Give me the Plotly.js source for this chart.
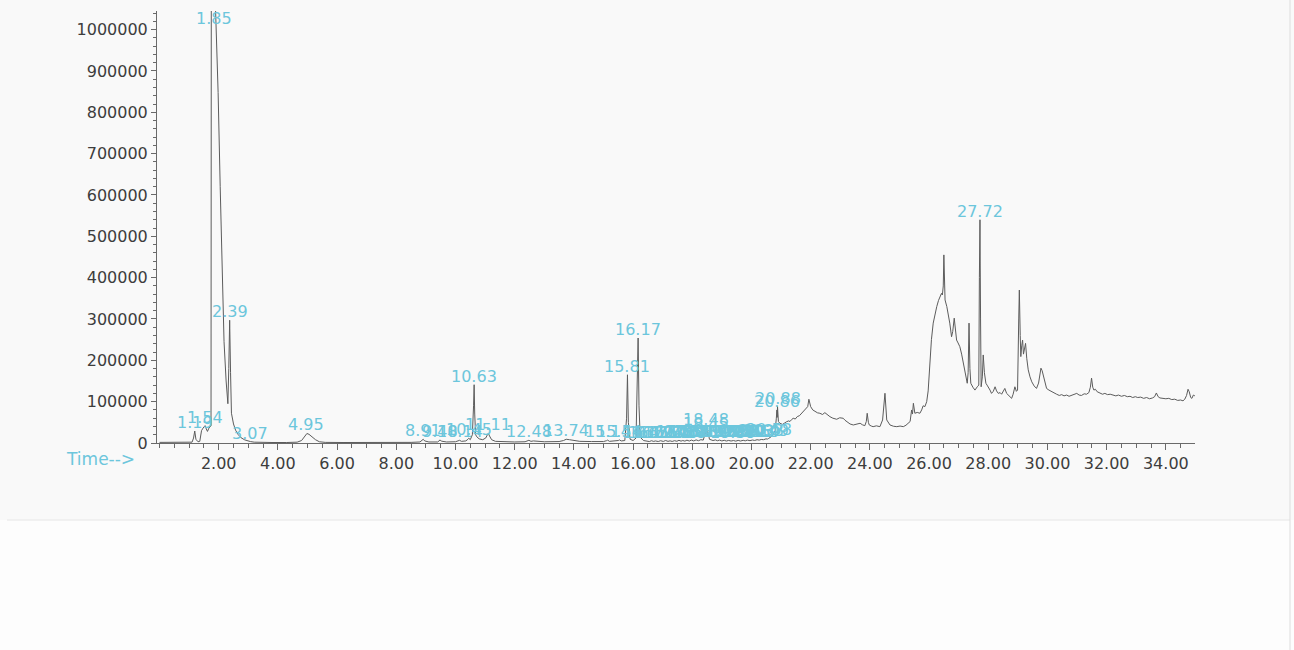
<!DOCTYPE html>
<html>
<head>
<meta charset="utf-8">
<script src="https://cdn.plot.ly/plotly-3.0.1.min.js"></script>
<style>
  html, body { margin: 0; padding: 0; background: #f9f9f9; }
  #chart { width: 1294px; height: 650px; }
</style>
</head>
<body>
<div id="chart"></div>
<script>
// Total ion chromatogram, [retention time (min), abundance] by region of the run
const solventFront = [
  [0.00, 1500], [0.30, 1200], [0.60, 1500], [0.90, 1800], [1.10, 2000], [1.15, 12000], [1.19, 29000],
  [1.23, 9000], [1.30, 3000], [1.36, 4000], [1.42, 30000], [1.47, 36000], [1.54, 42000], [1.58, 34000],
  [1.62, 28000], [1.67, 36000], [1.71, 40000], [1.74, 42000], [1.75, 1150000], [1.85, 1200000],
  [1.88, 1080000], [1.98, 848000], [2.05, 620000], [2.12, 420000], [2.18, 245000], [2.25, 150000],
  [2.31, 95000], [2.34, 180000], [2.37, 297000], [2.40, 170000], [2.43, 72000], [2.50, 46000],
  [2.57, 31000], [2.65, 21000], [2.75, 13000], [2.88, 7500], [3.00, 4500], [3.07, 3500], [3.20, 2000]
];

const midRun = [
  [3.40, 1500], [3.80, 1200], [4.30, 1200], [4.65, 2000], [4.80, 6000], [4.90, 15000], [4.98, 23000],
  [5.05, 21000], [5.15, 15000], [5.27, 8000], [5.40, 3000], [5.60, 1500], [6.20, 1200], [7.00, 1000],
  [7.80, 1200], [8.50, 1500], [8.80, 2500], [8.86, 7000], [8.91, 9000], [8.96, 5000], [9.10, 2500],
  [9.40, 2500], [9.45, 5500], [9.48, 7500], [9.52, 4500], [9.70, 2500], [10.00, 3000], [10.10, 4500],
  [10.14, 6500], [10.20, 4000], [10.35, 5000], [10.42, 9000], [10.45, 11500], [10.50, 8000],
  [10.57, 20000], [10.61, 90000], [10.63, 141000], [10.65, 70000], [10.68, 20000], [10.72, 15000],
  [10.80, 10000], [10.92, 8000], [11.02, 12000], [11.08, 20000], [11.11, 23500], [11.15, 17000],
  [11.22, 8000], [11.35, 4000], [11.60, 3000], [12.00, 2500], [12.35, 3000], [12.45, 5500],
  [12.48, 6500], [12.55, 4000], [12.63, 5000], [13.00, 3000], [13.50, 3500], [13.65, 6000],
  [13.74, 9000], [13.85, 8000], [14.00, 6000], [14.20, 4000], [14.60, 3500], [15.00, 3500],
  [15.10, 5500], [15.14, 7000], [15.20, 4000], [15.45, 4500], [15.50, 6000], [15.54, 7500],
  [15.60, 5000], [15.72, 6000], [15.78, 60000], [15.81, 165000], [15.84, 50000], [15.90, 9000],
  [16.00, 6000], [16.10, 12000], [16.14, 120000], [16.17, 254000], [16.20, 90000], [16.24, 14000],
  [16.35, 6000]
];

const denseRegion = [
  [16.45, 5000], [16.55, 3500], [16.62, 5500], [16.70, 3800], [16.75, 5000], [16.85, 3600],
  [16.93, 5500], [17.02, 3800], [17.10, 6000], [17.18, 4000], [17.25, 5200], [17.32, 3800],
  [17.40, 5600], [17.48, 4200], [17.55, 6500], [17.62, 4500], [17.68, 6000], [17.75, 4500],
  [17.82, 6800], [17.90, 4800], [17.97, 7000], [18.05, 5000], [18.13, 7500], [18.21, 5500],
  [18.29, 8000], [18.37, 7000], [18.45, 26000], [18.48, 36000], [18.52, 16000], [18.55, 20000],
  [18.58, 9000], [18.62, 8000], [18.70, 6000], [18.78, 7500], [18.85, 5500], [18.92, 7000],
  [19.00, 5000], [19.08, 6500], [19.15, 4800], [19.23, 6200], [19.31, 4800], [19.39, 6000],
  [19.47, 4500], [19.55, 6300], [19.63, 4800], [19.72, 6500], [19.79, 5200], [19.86, 7000],
  [19.95, 5600], [20.03, 7200], [20.11, 6200], [20.19, 8000], [20.26, 7000], [20.33, 8500],
  [20.41, 8000], [20.49, 10000], [20.54, 9500], [20.58, 11000], [20.66, 15000], [20.74, 22000],
  [20.80, 30000], [20.84, 60000], [20.86, 80000], [20.87, 62000], [20.88, 88000], [20.91, 52000],
  [20.96, 47700], [21.05, 45000]
];

const lateRegion = [
  [21.12, 49000], [21.19, 51600], [21.26, 53500], [21.30, 52000], [21.36, 57000], [21.41, 59800],
  [21.48, 58000], [21.55, 64000], [21.62, 66000], [21.70, 71900], [21.78, 78000], [21.86, 84000],
  [21.90, 88000], [21.94, 105800], [22.00, 87900], [22.07, 80000], [22.15, 75800], [22.23, 73000],
  [22.31, 71900], [22.40, 69000], [22.48, 73400], [22.56, 68000], [22.65, 63700], [22.75, 60000],
  [22.88, 57400], [22.98, 61000], [23.10, 59800], [23.16, 55000], [23.22, 51600], [23.33, 46000],
  [23.44, 43600], [23.55, 46000], [23.67, 47700], [23.75, 44000], [23.83, 41900], [23.88, 52000],
  [23.91, 71900], [23.95, 50000], [23.98, 43600], [24.05, 41000], [24.11, 39500], [24.22, 41500],
  [24.34, 39500], [24.43, 55700], [24.51, 120300], [24.57, 55700], [24.63, 48000], [24.68, 43600],
  [24.80, 40500], [24.91, 39500], [25.02, 41000], [25.13, 39500], [25.22, 43000], [25.30, 47700],
  [25.36, 52000], [25.41, 79900], [25.44, 70000], [25.47, 96100], [25.52, 71900], [25.60, 74000],
  [25.69, 71900], [25.75, 80000], [25.80, 90000], [25.86, 88000], [25.92, 100000], [25.97, 126000],
  [26.00, 160000], [26.03, 217000], [26.08, 250000], [26.14, 290000], [26.20, 312000], [26.26, 330000],
  [26.32, 345000], [26.37, 354000], [26.42, 362000], [26.45, 358000], [26.48, 380000], [26.50, 455000],
  [26.52, 400000], [26.54, 346000], [26.60, 330000], [26.65, 314000], [26.70, 290000], [26.76, 257000],
  [26.80, 270000], [26.85, 302000], [26.89, 280000], [26.93, 249000], [26.98, 242000], [27.04, 233000],
  [27.10, 215000], [27.16, 195000], [27.21, 177000], [27.26, 160000], [27.29, 144500], [27.32, 170000],
  [27.35, 290000], [27.38, 180000], [27.41, 144500], [27.48, 135000], [27.55, 128000], [27.63, 136000],
  [27.68, 140000], [27.70, 400000], [27.72, 540000], [27.74, 300000], [27.76, 136000], [27.80, 160000],
  [27.83, 213000], [27.87, 170000], [27.92, 144500], [27.96, 140000], [28.00, 136000], [28.06, 128000],
  [28.11, 120000], [28.17, 125000], [28.23, 136000], [28.28, 126000], [28.34, 120000], [28.40, 122000],
  [28.45, 118000], [28.50, 123000], [28.56, 132000], [28.62, 120000], [28.68, 116000], [28.74, 112000],
  [28.79, 108000], [28.84, 118000], [28.90, 136000], [28.95, 125000], [28.99, 128000], [29.03, 300000],
  [29.05, 370000], [29.08, 260000], [29.10, 209000], [29.13, 235000], [29.16, 249000], [29.19, 215000],
  [29.21, 225000], [29.26, 241000], [29.30, 205000], [29.35, 177000], [29.41, 160000], [29.47, 148000],
  [29.55, 138000], [29.63, 132000], [29.70, 145000], [29.75, 170000], [29.78, 181000], [29.82, 175000],
  [29.86, 165000], [29.92, 145000], [29.97, 132000], [30.05, 128000], [30.14, 124000], [30.22, 121000],
  [30.31, 118000], [30.40, 115000], [30.48, 117000], [30.56, 114000], [30.65, 116000], [30.73, 113000],
  [30.82, 115000], [30.90, 118000], [30.99, 120000], [31.07, 116000], [31.15, 115000], [31.24, 119000],
  [31.32, 118000], [31.40, 122000], [31.45, 135000], [31.49, 157000], [31.53, 135000], [31.57, 128000],
  [31.62, 130000], [31.68, 124000], [31.77, 120000], [31.86, 118000], [31.94, 120000], [32.03, 117000],
  [32.12, 118000], [32.22, 116000], [32.31, 114000], [32.40, 116000], [32.50, 113000], [32.60, 115000],
  [32.70, 112000], [32.79, 113000], [32.88, 110000], [32.97, 112000], [33.05, 110000], [33.15, 111000],
  [33.25, 108000], [33.35, 110000], [33.45, 107000], [33.55, 109000], [33.62, 112000], [33.68, 121000],
  [33.74, 112000], [33.80, 109000], [33.90, 108000], [34.00, 107000], [34.10, 108000], [34.20, 105000],
  [34.30, 106000], [34.40, 103000], [34.50, 104000], [34.58, 102000], [34.64, 106000], [34.70, 115000],
  [34.75, 130000], [34.79, 124000], [34.84, 110000], [34.88, 108000], [34.93, 116000], [34.98, 114000]
];

// Integrated peak retention times printed above the trace
const peakLabels = [
  1.19, 1.54, 1.85, 2.39, 3.07, 4.95, 8.91, 9.48, 10.14, 10.45, 10.63, 11.11, 12.48, 13.74, 15.14, 15.54,
  15.81, 16.17, 16.45, 16.62, 16.75, 16.93, 17.10, 17.25, 17.40, 17.55, 17.68, 17.82, 17.97, 18.13, 18.29,
  18.45, 18.48, 18.62, 18.78, 18.92, 19.08, 19.23, 19.39, 19.55, 19.72, 19.86, 20.03, 20.19, 20.33, 20.49,
  20.58, 20.86, 20.88, 27.72
];

const xTickValues = [2, 4, 6, 8, 10, 12, 14, 16, 18, 20, 22, 24, 26, 28, 30, 32, 34];
const yTickValues = [0, 100000, 200000, 300000, 400000, 500000, 600000, 700000, 800000, 900000, 1000000];

const X_RANGE = [-0.085, 34.985];
const Y_RANGE = [0, 1045000];

const LABEL_COLOR = '#6cc6dc';
const TEXT_COLOR = '#3d3d3d';
const AXIS_COLOR = '#6a6a6a';

const points = solventFront.concat(midRun, denseRegion, lateRegion);
const retentionTime = points.map(p => p[0]);
const abundance = points.map(p => p[1]);

// apex of the trace at a labelled retention time
function apexAt(t) {
  let exact = null, best = -Infinity;
  for (let i = 0; i < retentionTime.length; i++) {
    const d = Math.abs(retentionTime[i] - t);
    if (d < 0.005) exact = abundance[i];
    if (d <= 0.035) best = Math.max(best, abundance[i]);
  }
  if (exact !== null && best > 0 && exact >= 0.5 * best) return exact;
  return best > -Infinity ? best : 0;
}

const annotations = peakLabels.map(t => {
  const h = apexAt(t);
  const offScale = h > Y_RANGE[1];
  return {
    x: t, y: offScale ? Y_RANGE[1] : h,
    xref: 'x', yref: 'y',
    text: t.toFixed(2),
    showarrow: false,
    xanchor: 'center',
    yanchor: offScale ? 'top' : 'bottom',
    yshift: offScale ? 4 : -3,
    font: { family: 'DejaVu Sans', size: 16, color: LABEL_COLOR }
  };
});

annotations.push({
  xref: 'paper', yref: 'paper',
  x: (64 - 157) / 1038, y: (443 - 459) / 432,
  xanchor: 'left', yanchor: 'middle',
  text: 'Time-->', showarrow: false,
  font: { family: 'DejaVu Sans', size: 17, color: LABEL_COLOR }
});

const trace = {
  x: retentionTime,
  y: abundance,
  type: 'scatter',
  mode: 'lines',
  line: { color: '#5c5c5c', width: 1 },
  hoverinfo: 'x+y'
};

const layout = {
  width: 1294,
  height: 650,
  margin: { l: 157, r: 99, t: 11, b: 207 },
  paper_bgcolor: '#f9f9f9',
  plot_bgcolor: 'rgba(0,0,0,0)',
  showlegend: false,
  xaxis: {
    range: X_RANGE,
    tickmode: 'array',
    tickvals: xTickValues,
    ticktext: xTickValues.map(v => v.toFixed(2)),
    ticks: 'outside', ticklen: 6, tickwidth: 1, tickcolor: AXIS_COLOR,
    minor: { dtick: 0.5, tick0: 0, ticks: 'outside', ticklen: 4, tickcolor: AXIS_COLOR, showgrid: false },
    showline: true, linecolor: AXIS_COLOR, linewidth: 1,
    showgrid: false, zeroline: false,
    tickfont: { family: 'DejaVu Sans', size: 16, color: TEXT_COLOR }
  },
  yaxis: {
    range: Y_RANGE,
    tickmode: 'array',
    tickvals: yTickValues,
    ticktext: yTickValues.map(v => String(v)),
    ticks: 'outside', ticklen: 5, tickwidth: 1, tickcolor: AXIS_COLOR,
    minor: { dtick: 20000, tick0: 0, ticks: 'outside', ticklen: 3, tickcolor: AXIS_COLOR, showgrid: false },
    showline: true, linecolor: AXIS_COLOR, linewidth: 1,
    showgrid: false, zeroline: false,
    tickfont: { family: 'DejaVu Sans', size: 16, color: TEXT_COLOR }
  },
  shapes: [
    {
      type: 'rect', xref: 'paper', yref: 'paper', layer: 'below',
      x0: -157 / 1038, x1: (1294 - 157) / 1038,
      y0: (443 - 650) / 432, y1: (443 - 520) / 432,
      fillcolor: '#fdfdfd', line: { width: 0 }
    },
    {
      type: 'line', xref: 'paper', yref: 'paper', layer: 'below',
      x0: -150 / 1038, x1: (1290 - 157) / 1038,
      y0: (443 - 520) / 432, y1: (443 - 520) / 432,
      line: { color: '#e6e6e6', width: 1 }
    },
    {
      type: 'line', xref: 'paper', yref: 'paper', layer: 'below',
      x0: (1290 - 157) / 1038, x1: (1290 - 157) / 1038,
      y0: (443 - 650) / 432, y1: 443 / 432,
      line: { color: '#dddddd', width: 1 }
    }
  ],
  annotations: annotations
};

Plotly.newPlot('chart', [trace], layout, { displayModeBar: false, staticPlot: true });
</script>
</body>
</html>
